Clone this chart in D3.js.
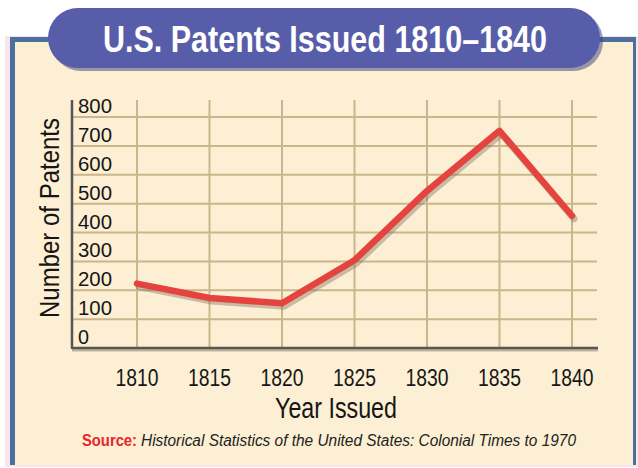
<!DOCTYPE html>
<html>
<head>
<meta charset="utf-8">
<script src="https://cdn.jsdelivr.net/npm/d3@7"></script>
<style>
  body { margin: 0; background: #fff; }
  svg { display: block; }
  text { font-family: "Liberation Sans Narrow", "Liberation Sans", Arial, sans-serif; }
</style>
</head>
<body>
<div id="chart"></div>
<script>
var years = [1810, 1815, 1820, 1825, 1830, 1835, 1840];
var patents = [223, 173, 155, 304, 544, 752, 458];
var yTicks = [0, 100, 200, 300, 400, 500, 600, 700, 800];

var w = 638, h = 468;

var svg = d3.select("#chart").append("svg")
    .attr("width", w)
    .attr("height", h)

// frame
svg.append("rect")
    .attr("x", 5).attr("y", 36)
    .attr("width", 633).attr("height", 431)
    .attr("fill", "#f8e4ec")
svg.append("rect")
    .attr("x", 10).attr("y", 37)
    .attr("width", 626).attr("height", 428)
    .attr("fill", "#4d6f9c")
svg.append("rect")
    .attr("x", 15).attr("y", 42)
    .attr("width", 618).attr("height", 423)
    .attr("fill", "#fcefd3")

var x = d3.scaleLinear().domain([1810, 1840]).range([137, 572]);
var y = d3.scaleLinear().domain([0, 800]).range([348, 117]);

// grid
svg.append("g").selectAll("line.h")
  .data(yTicks.slice(1))
  .enter().append("line")
    .attr("x1", 72).attr("x2", 597)
    .attr("y1", function(d){ return y(d) })
    .attr("y2", function(d){ return y(d) })
    .attr("stroke", "#cbb68c")
    .attr("stroke-width", 2)

svg.append("g").selectAll("line.v")
  .data(years)
  .enter().append("line")
    .attr("x1", function(d){ return x(d) })
    .attr("x2", function(d){ return x(d) })
    .attr("y1", 100).attr("y2", 348)
    .attr("stroke", "#cbb68c")
    .attr("stroke-width", 2)

// axes
svg.append("line")
    .attr("x1", 72).attr("x2", 598).attr("y1", 350).attr("y2", 350)
    .attr("stroke", "#bfb39a").attr("stroke-width", 3)
svg.append("line")
    .attr("x1", 72).attr("x2", 598).attr("y1", 348).attr("y2", 348)
    .attr("stroke", "#555").attr("stroke-width", 2.5)
svg.append("line")
    .attr("x1", 72).attr("x2", 72).attr("y1", 100).attr("y2", 349)
    .attr("stroke", "#555").attr("stroke-width", 2.5)

// y tick labels
svg.append("g").selectAll("text")
  .data(yTicks)
  .enter().append("text")
    .attr("x", 78)
    .attr("y", function(d){ return y(d) - 4 })
    .attr("font-size", 20)
    .attr("fill", "#161616")
    .attr("textLength", function(d){ return d == 0 ? 11 : 34 })
    .attr("lengthAdjust", "spacingAndGlyphs")
    .text(function(d){ return d })

// x tick labels
svg.append("g").selectAll("text")
  .data(years)
  .enter().append("text")
    .attr("x", function(d){ return x(d) })
    .attr("y", 386)
    .attr("font-size", 23)
    .attr("fill", "#161616")
    .style("text-anchor", "middle")
    .attr("textLength", 43)
    .attr("lengthAdjust", "spacingAndGlyphs")
    .text(function(d){ return d })

// line
var line = d3.line()
    .x(function(d, i){ return x(years[i]) })
    .y(function(d){ return y(d) })

svg.append("path")
    .datum(patents)
    .attr("d", line)
    .attr("transform", "translate(2,3)")
    .attr("fill", "none")
    .attr("stroke", "#7d6f5c")
    .attr("stroke-opacity", 0.4)
    .attr("stroke-width", 7)
    .attr("stroke-linejoin", "round")
    .attr("stroke-linecap", "round")

svg.append("path")
    .datum(patents)
    .attr("d", line)
    .attr("fill", "none")
    .attr("stroke", "#e4433e")
    .attr("stroke-width", 6.5)
    .attr("stroke-linejoin", "round")
    .attr("stroke-linecap", "round")

// axis titles
svg.append("text")
    .attr("transform", "translate(59,218) rotate(-90)")
    .attr("font-size", 28)
    .attr("fill", "#161616")
    .style("text-anchor", "middle")
    .attr("textLength", 200)
    .attr("lengthAdjust", "spacingAndGlyphs")
    .text("Number of Patents")

svg.append("text")
    .attr("x", 336).attr("y", 418)
    .attr("font-size", 29)
    .attr("fill", "#161616")
    .style("text-anchor", "middle")
    .attr("textLength", 122)
    .attr("lengthAdjust", "spacingAndGlyphs")
    .text("Year Issued")

// source
svg.append("text")
    .attr("x", 82).attr("y", 446)
    .attr("font-size", 16)
    .attr("font-weight", "bold")
    .attr("fill", "#e8262b")
    .attr("textLength", 55)
    .attr("lengthAdjust", "spacingAndGlyphs")
    .text("Source:")
svg.append("text")
    .attr("x", 141).attr("y", 446)
    .attr("font-size", 16)
    .attr("font-style", "italic")
    .attr("fill", "#222")
    .attr("textLength", 435)
    .attr("lengthAdjust", "spacingAndGlyphs")
    .text("Historical Statistics of the United States: Colonial Times to 1970")

// title pill
svg.append("rect")
    .attr("x", 51).attr("y", 11)
    .attr("width", 552).attr("height", 60)
    .attr("rx", 30)
    .attr("fill", "#3a3d78")
    .attr("opacity", 0.5)
svg.append("rect")
    .attr("x", 48).attr("y", 8)
    .attr("width", 552).attr("height", 60)
    .attr("rx", 30)
    .attr("fill", "#585da9")

svg.append("text")
    .attr("x", 325).attr("y", 52)
    .attr("font-size", 36)
    .attr("font-weight", "bold")
    .attr("fill", "#fff")
    .style("text-anchor", "middle")
    .attr("textLength", 444)
    .attr("lengthAdjust", "spacingAndGlyphs")
    .text("U.S. Patents Issued 1810\u20131840")
</script>
</body>
</html>
